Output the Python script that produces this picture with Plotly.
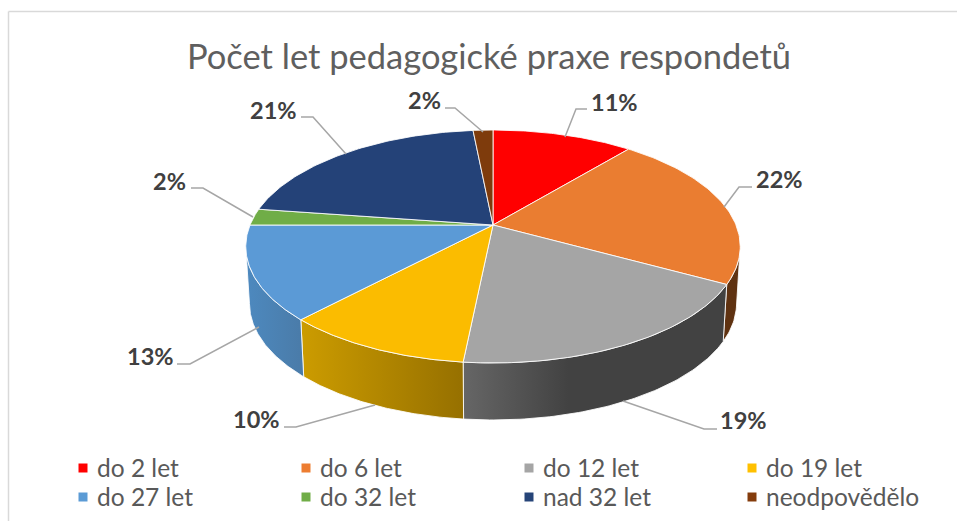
import numpy as np
import plotly.graph_objects as go

TITLE = "Počet let pedagogické praxe respondetů"
categories = ["do 2 let", "do 6 let", "do 12 let", "do 19 let",
              "do 27 let", "do 32 let", "nad 32 let", "neodpovědělo"]
values = [11, 22, 18.6, 10.4, 13, 2.3, 21.15, 1.55]

# --- styling / layout (not data) ---
FONT = "Lato"
colors = ["#FF0000", "#ED7D31", "#A5A5A5", "#FFC000",
          "#5B9BD5", "#70AD47", "#264478", "#843C0C"]
top_colors = ["#FF0000", "#EA7D31", "#A5A5A5", "#FBBC00",
              "#5B9AD6", "#70AD47", "#244278", "#7E3B0C"]
wall_scales = {
    1: [[0, "#5F3211"], [1, "#5F3211"]],
    2: [[0, "#666666"], [0.4, "#424242"], [1, "#424242"]],
    3: [[0, "#CC9C00"], [1, "#967000"]],
    4: [[0, "#4D89BF"], [1, "#4A7BA8"]],
}
CX, CY = 493, 225
A, B, K = 112.5, 243, -0.1845
WALL_DY, WALL_SX = 57, 0.985
LEGEND_X0, LEGEND_DX, LEGEND_Y0, LEGEND_DY, LEGEND_GAP = 83, 223, 468, 29, 12

# label text centre, then leader line outer end -> elbow -> pie end
label_layout = [
    ((614, 102), [(587, 109), (576, 109), (565, 137)]),
    ((779, 179), [(752, 187), (739, 187), (724, 207)]),
    ((743, 420), [(717, 429), (704, 429), (623, 401)]),
    ((256, 419), [(284, 427), (296, 427), (375, 405)]),
    ((150, 356), [(177, 364), (190, 364), (259, 327)]),
    ((169, 181), [(191, 188), (203, 188), (253, 217)]),
    ((273, 110), [(301, 117), (313, 117), (346, 154)]),
    ((424, 100), [(445, 108), (455, 108), (483, 132)]),
]


def project(theta):
    u, v = np.sin(theta), -np.cos(theta)
    d = 1 + K * v
    return CX + B * u / d, CY + A * v / d


total = sum(values)
edges = 2 * np.pi * np.cumsum([0] + values) / total
fig = go.Figure()

# side walls
for i, scale in wall_scales.items():
    a0, a1 = edges[i], edges[i + 1]
    t = np.linspace(a0, a1, 80)
    x, y = project(t)
    keep = y >= CY + 21  # front-facing part only
    x, y = x[keep], y[keep]
    bx = CX + WALL_SX * (x - CX)
    by = y + WALL_DY
    fig.add_trace(go.Scatter(
        x=np.r_[x, bx[::-1], x[0]], y=np.r_[y, by[::-1], y[0]],
        mode="lines", fill="toself", showlegend=False, hoverinfo="skip",
        line=dict(color="rgba(255,255,255,0.85)", width=1),
        fillgradient=dict(type="horizontal", colorscale=scale),
    ))

# top faces
for i, name in enumerate(categories):
    t = np.linspace(edges[i], edges[i + 1], 80)
    x, y = project(t)
    fig.add_trace(go.Scatter(
        x=np.r_[CX, x, CX], y=np.r_[CY, y, CY], mode="lines", fill="toself",
        fillcolor=top_colors[i], line=dict(color="rgba(255,255,255,0.85)", width=1),
        name=name, showlegend=False, hoverinfo="name",
    ))

# leader lines, labels, chart border
shapes = [
    dict(type="line", xref="x", yref="y", x0=8.5, x1=8.5, y0=11.5, y1=521,
         line=dict(color="#D9D9D9", width=1.5)),
    dict(type="line", xref="x", yref="y", x0=8.5, x1=957, y0=11.5, y1=11.5,
         line=dict(color="#D9D9D9", width=1.5)),
]
annotations = []
for v, (pos, line) in zip(values, label_layout):
    path = "M " + " L ".join(f"{px},{py}" for px, py in line)
    shapes.append(dict(type="path", path=path, xref="x", yref="y",
                       line=dict(color="#A6A6A6", width=1.5)))
    annotations.append(dict(
        x=pos[0], y=pos[1], xref="x", yref="y", text=f"<b>{round(v / total * 100)}%</b>",
        showarrow=False, xanchor="center", yanchor="middle",
        font=dict(family=FONT, size=23.5, color="#404040"),
    ))

# legend grid: 4 columns x 2 rows
for i, (name, c) in enumerate(zip(categories, colors)):
    lx = LEGEND_X0 + LEGEND_DX * (i % 4)
    ly = LEGEND_Y0 + LEGEND_DY * (i // 4)
    fig.add_trace(go.Scatter(
        x=[lx], y=[ly], mode="markers", name=name, showlegend=False, hoverinfo="name",
        marker=dict(symbol="square", size=9, color=c, line=dict(width=0)),
    ))
    annotations.append(dict(
        x=lx + LEGEND_GAP, y=ly - 1, xref="x", yref="y", text=name, showarrow=False,
        xanchor="left", yanchor="middle",
        font=dict(family=FONT, size=24.5, color="#595959"),
    ))

fig.update_layout(
    width=957, height=521, autosize=False,
    margin=dict(l=0, r=0, t=0, b=0),
    paper_bgcolor="white", plot_bgcolor="white",
    title=dict(text=TITLE, x=489 / 957, xanchor="center", y=1 - 57 / 521, yanchor="middle",
               font=dict(family=FONT, size=34.5, color="#5F5F5F")),
    xaxis=dict(range=[0, 957], visible=False, fixedrange=True),
    yaxis=dict(range=[521, 0], visible=False, fixedrange=True),
    shapes=shapes, annotations=annotations,
    showlegend=False,
)

fig.write_html("out.html", config={"displayModeBar": False},
               post_script="document.body.style.margin='0';")
